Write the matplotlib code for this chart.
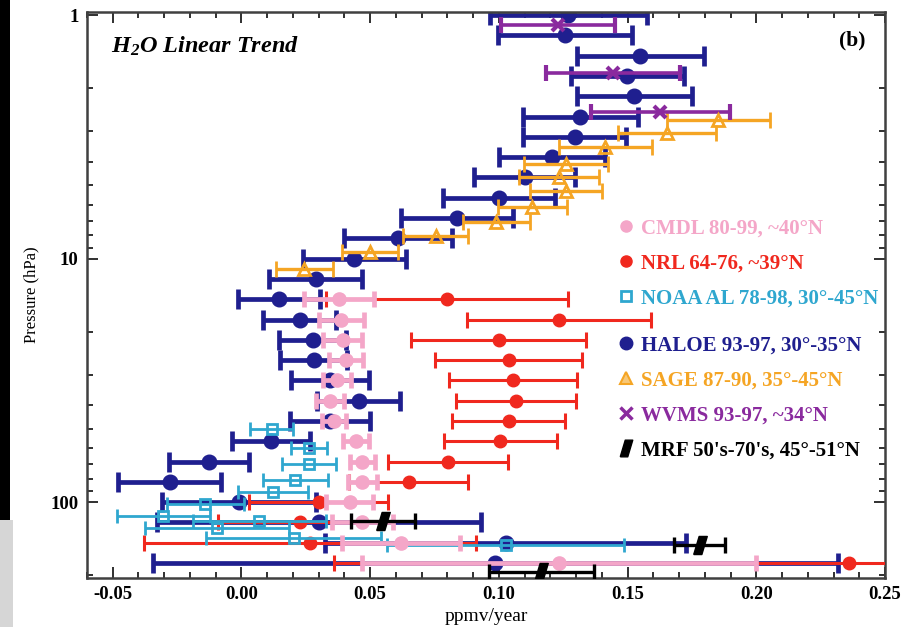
import matplotlib
matplotlib.use("Agg")
import matplotlib.pyplot as plt
from matplotlib.lines import Line2D
from matplotlib.patches import Rectangle
from matplotlib.ticker import MultipleLocator, FixedLocator, FormatStrFormatter, NullFormatter

plt.rcParams['font.family'] = 'Liberation Serif'
plt.rcParams['axes.unicode_minus'] = False
plt.rcParams['mathtext.fontset'] = 'custom'
plt.rcParams['mathtext.it'] = 'Liberation Serif:italic:bold'
plt.rcParams['mathtext.rm'] = 'Liberation Serif:italic:bold'

# HALOE 93-97, 30-35N
haloe_p = [1.00, 1.21, 1.47, 1.78, 2.15, 2.61, 3.16, 3.83, 4.64, 5.62, 6.81, 8.25, 10.0, 12.1,
           14.7, 17.8, 21.5, 26.1, 31.6, 38.3, 46.4, 56.2, 68.1, 82.5, 100.0, 121.0, 147.0, 178.0]
haloe_x = [0.127, 0.1258, 0.155, 0.1499, 0.1526, 0.1317, 0.1295, 0.1207, 0.110, 0.100, 0.0837, 0.0607,
           0.0438, 0.0288, 0.0147, 0.0226, 0.0277, 0.0281, 0.0344, 0.0455, 0.0344, 0.0115, -0.0125,
           -0.0279, -0.0009, 0.030, 0.1026, 0.0986]
haloe_e = [0.0304, 0.026, 0.0247, 0.022, 0.0224, 0.0222, 0.020, 0.0205, 0.0197, 0.0218, 0.0216, 0.021,
           0.020, 0.018, 0.016, 0.0143, 0.013, 0.013, 0.015, 0.016, 0.0155, 0.015, 0.0155,
           0.020, 0.030, 0.063, 0.070, 0.133]

# WVMS 93-97
wvms_p = [1.10, 1.72, 2.50]
wvms_x = [0.123, 0.1444, 0.1627]
wvms_e = [0.022, 0.026, 0.027]

# SAGE 87-90
sage_p = [2.70, 3.06, 3.47, 4.07, 4.60, 5.27, 6.13, 7.05, 8.09, 9.40, 11.0]
sage_x = [0.1852, 0.1654, 0.1414, 0.126, 0.1234, 0.126, 0.113, 0.099, 0.0754, 0.0499, 0.0244]
sage_e = [0.020, 0.019, 0.018, 0.0163, 0.0156, 0.014, 0.0135, 0.013, 0.0125, 0.011, 0.011]

# CMDL 80-99
cmdl_p = [14.7, 17.8, 21.5, 26.1, 31.6, 38.3, 46.4, 56.2, 68.1, 82.5, 100.0, 121.0, 147.0, 178.0]
cmdl_x = [0.0379, 0.0388, 0.0393, 0.0406, 0.037, 0.0344, 0.0358, 0.0444, 0.047, 0.047, 0.042,
          0.047, 0.062, 0.1234]
cmdl_e = [0.0135, 0.0088, 0.0075, 0.0065, 0.0055, 0.0053, 0.0047, 0.005, 0.005, 0.0055, 0.009,
          0.012, 0.023, 0.0765]

# NRL 64-76
nrl_p = [14.7, 17.8, 21.5, 26.1, 31.6, 38.3, 46.4, 56.2, 68.1, 82.5, 100.0, 121.0, 147.0, 178.0]
nrl_x = [0.0799, 0.1235, 0.100, 0.1038, 0.1055, 0.1066, 0.1038, 0.1006, 0.0804, 0.0649, 0.030,
         0.0229, 0.0267, 0.236]
nrl_e = [0.047, 0.0357, 0.034, 0.0286, 0.025, 0.0233, 0.022, 0.022, 0.0233, 0.023, 0.027,
         0.032, 0.0645, 0.200]

# NOAA AL 78-98
noaa_p = [50.0, 60.0, 70.0, 81.0, 91.0, 102.0, 114.0, 119.0, 128.0, 140.0, 150.0]
noaa_x = [0.0118, 0.0263, 0.0263, 0.0209, 0.0124, -0.014, -0.0303, 0.007, -0.0094, 0.0203, 0.1026]
noaa_e = [0.0084, 0.007, 0.0105, 0.0126, 0.0136, 0.015, 0.0182, 0.026, 0.028, 0.034, 0.046]

# MRF 50's-70's
mrf_p = [119.0, 150.0, 194.0]
mrf_x = [0.055, 0.178, 0.1165]
mrf_e = [0.0125, 0.010, 0.0205]

HALOE_C = '#1f1f8f'
SAGE_C = '#f5a524'
WVMS_C = '#8a2a9e'
NRL_C = '#f0281e'
NOAA_C = '#2fa7cf'
CMDL_C = '#f4a6c8'
MRF_C = 'black'

# slanted box used for the MRF points
mrf_marker = [(-0.75, -1), (0.15, -1), (0.75, 1), (-0.15, 1), (-0.75, -1)]

fig = plt.figure(figsize=(9.12, 6.27), dpi=100)
ax = fig.add_axes([0.0954, 0.0781, 0.875, 0.9028])

ax.errorbar(haloe_x, haloe_p, xerr=haloe_e, fmt='o', color=HALOE_C, ms=10.5,
            elinewidth=3.4, capsize=7, capthick=3.4, zorder=2)
ax.errorbar(sage_x, sage_p, xerr=sage_e, fmt='^', color=SAGE_C, mfc='none', mec=SAGE_C, mew=2,
            ms=9, elinewidth=2.4, capsize=6, capthick=2.4, zorder=3)
ax.errorbar(wvms_x, wvms_p, xerr=wvms_e, fmt='x', color=WVMS_C, mew=3, ms=9,
            elinewidth=2.6, capsize=6, capthick=2.6, zorder=3)
ax.errorbar(nrl_x, nrl_p, xerr=nrl_e, fmt='o', color=NRL_C, ms=9,
            elinewidth=2.2, capsize=6, capthick=2.2, zorder=3)
ax.errorbar(noaa_x, noaa_p, xerr=noaa_e, fmt='s', color=NOAA_C, mfc='none', mec=NOAA_C, mew=2,
            ms=7, elinewidth=2.0, capsize=5, capthick=2.0, zorder=4)
ax.errorbar(cmdl_x, cmdl_p, xerr=cmdl_e, fmt='o', color=CMDL_C, ms=9.5,
            elinewidth=3.4, capsize=5.5, capthick=3.4, zorder=5)
ax.errorbar(mrf_x, mrf_p, xerr=mrf_e, fmt='none', ecolor=MRF_C,
            elinewidth=2.4, capsize=6, capthick=2.4, zorder=6)
ax.plot(mrf_x, mrf_p, ls='none', marker=mrf_marker, color=MRF_C, ms=13, zorder=7)

ax.set_yscale('log')
ax.set_xlim(-0.06, 0.25)
ax.set_ylim(205, 0.97)

ax.xaxis.set_major_locator(MultipleLocator(0.05))
ax.xaxis.set_minor_locator(MultipleLocator(0.01))
ax.xaxis.set_major_formatter(FormatStrFormatter('%.2f'))
ax.yaxis.set_major_locator(FixedLocator([1, 10, 100]))
ax.yaxis.set_major_formatter(FormatStrFormatter('%d'))
ax.yaxis.set_minor_locator(FixedLocator([2, 3, 4, 5, 6, 7, 8, 9, 20, 30, 40, 50, 60, 70, 80, 90, 200]))
ax.yaxis.set_minor_formatter(NullFormatter())

ax.tick_params(which='both', direction='in', top=True, right=True, color='#303030', width=1.4)
ax.tick_params(which='major', length=8, labelsize=13.5, pad=6)
ax.tick_params(which='minor', length=4)
for lab in ax.get_xticklabels() + ax.get_yticklabels():
    lab.set_fontweight('bold')
for sp in ax.spines.values():
    sp.set_color('#404040')
    sp.set_linewidth(1.8)

ax.set_xlabel('ppmv/year', fontsize=14, labelpad=3)
ax.set_ylabel('Pressure (hPa)', fontsize=12, labelpad=8)

ax.text(0.03, 0.94, r'$H_2O$ Linear Trend', transform=ax.transAxes, fontsize=17.5,
        fontstyle='italic', fontweight='bold', va='center', ha='left')
ax.text(0.975, 0.95, '(b)', transform=ax.transAxes, fontsize=15.5, fontweight='bold',
        va='center', ha='right')

# legend in two groups, text coloured like the series
def handle(marker, color, **kw):
    return Line2D([], [], ls='none', marker=marker, color=color, **kw)

group1 = [
    (handle('o', CMDL_C, ms=8), 'CMDL 80-99, ~40°N', CMDL_C),
    (handle('o', NRL_C, ms=8), 'NRL 64-76, ~39°N', NRL_C),
    (handle('s', NOAA_C, ms=7, mfc='none', mew=2), 'NOAA AL 78-98, 30°-45°N', NOAA_C),
]
group2 = [
    (handle('o', HALOE_C, ms=9), 'HALOE 93-97, 30°-35°N', HALOE_C),
    (handle('^', SAGE_C, ms=9, mfc='#f8c878', mew=1.5), 'SAGE 87-90, 35°-45°N', SAGE_C),
    (handle('x', WVMS_C, ms=8, mew=2.5), 'WVMS 93-97, ~34°N', WVMS_C),
    (handle(mrf_marker, MRF_C, ms=12), "MRF 50's-70's, 45°-51°N", MRF_C),
]
legs = []
for group, top in ((group1, 0.635), (group2, 0.428)):
    leg = ax.legend([g[0] for g in group], [g[1] for g in group], loc='upper left',
                    bbox_to_anchor=(0.664, top), frameon=False, borderpad=0, borderaxespad=0,
                    handlelength=0.85, handletextpad=0.3, labelspacing=0.72,
                    prop={'family': 'Liberation Serif', 'weight': 'bold', 'size': 15})
    for txt, g in zip(leg.get_texts(), group):
        txt.set_color(g[2])
    legs.append(leg)
ax.add_artist(legs[0])

# dark border strip along the left edge
fig.patches.append(Rectangle((0, 0.17), 0.011, 0.83, transform=fig.transFigure,
                             facecolor='black', edgecolor='none'))
fig.patches.append(Rectangle((0, 0), 0.0145, 0.17, transform=fig.transFigure,
                             facecolor='#d6d6d6', edgecolor='none'))

fig.savefig('out.png', dpi=100)
